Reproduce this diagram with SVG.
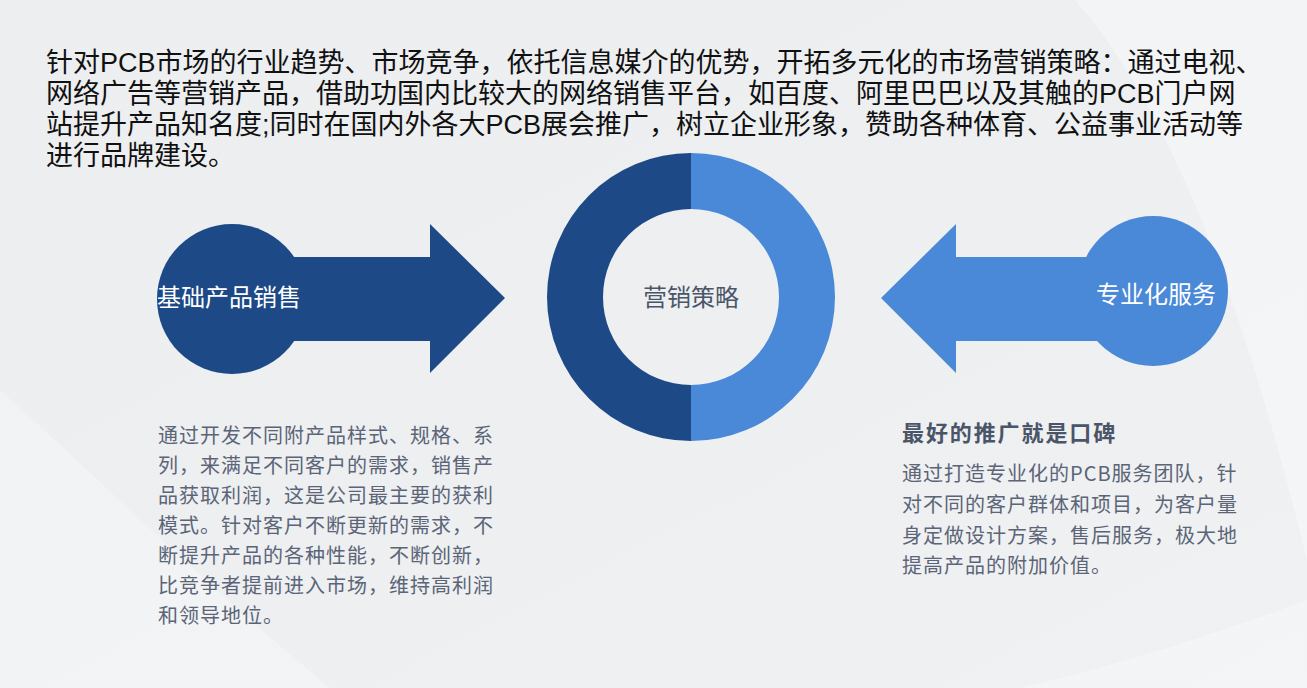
<svg xmlns="http://www.w3.org/2000/svg" width="1307" height="688" viewBox="0 0 1307 688">
<defs>
<linearGradient id="bg" x1="0" y1="0" x2="1" y2="1">
<stop offset="0" stop-color="#ECEEF0"/>
<stop offset="0.5" stop-color="#EDEFF1"/>
<stop offset="1" stop-color="#F0F1F3"/>
</linearGradient>
<style>
.dark{fill:#1D4A87}
.light{fill:#4A88D8}
.cjk{font-family:"Noto Sans CJK SC","Liberation Sans",sans-serif}
.top{font-family:"Liberation Sans","Noto Sans CJK SC",sans-serif;font-size:27px;fill:#111111}
.lbl{font-size:24px;fill:#FFFFFF}
.desc{font-size:20px;fill:#5B6577;letter-spacing:1px}
.ttl{font-size:22px;font-weight:bold;fill:#4A5568;letter-spacing:1.9px}
</style>
</defs>
<rect width="1307" height="688" fill="url(#bg)"/>
<path d="M1075 0 C1180 120 1250 330 1307 560 L1307 0 Z" fill="#FFFFFF" opacity="0.35"/>
<path d="M0 390 C90 470 200 580 330 688 L0 688 Z" fill="#FFFFFF" opacity="0.25"/>
<path d="M1307 600 C1200 640 1100 670 1020 688 L1307 688 Z" fill="#FFFFFF" opacity="0.3"/>

<g id="intro" class="top">
<text x="46" y="72">针对PCB市场的行业趋势、市场竞争，依托信息媒介的优势，开拓多元化的市场营销策略：通过电视、</text>
<text x="46" y="103">网络广告等营销产品，借助功国内比较大的网络销售平台，如百度、阿里巴巴以及其触的PCB门户网</text>
<text x="46" y="134">站提升产品知名度;同时在国内外各大PCB展会推广，树立企业形象，赞助各种体育、公益事业活动等</text>
<text x="46" y="165">进行品牌建设。</text>
</g>

<g id="node-left">
<circle class="dark" cx="232" cy="299" r="75"/>
<polygon class="dark" points="290,257 430,257 430,224 505,298 430,373 430,341 290,341"/>
<text class="cjk lbl" x="157" y="306">基础产品销售</text>
</g>

<g id="node-center">
<path class="dark" d="M691 153 A144 144 0 0 0 691 441 L691 385 A88 88 0 0 1 691 209 Z"/>
<path class="light" d="M691 153 A144 144 0 0 1 691 441 L691 385 A88 88 0 0 0 691 209 Z"/>
<text class="cjk" x="691" y="306" text-anchor="middle" font-size="24" fill="#4B5568">营销策略</text>
</g>

<g id="node-right">
<circle class="light" cx="1153" cy="291" r="75"/>
<polygon class="light" points="1110,257 956,257 956,224 881,298 956,373 956,341 1110,341"/>
<text class="cjk lbl" x="1096" y="303">专业化服务</text>
</g>

<g id="connectors"></g>

<g id="desc-left" class="cjk desc">
<text x="158" y="443">通过开发不同附产品样式、规格、系</text>
<text x="158" y="473">列，来满足不同客户的需求，销售产</text>
<text x="158" y="503">品获取利润，这是公司最主要的获利</text>
<text x="158" y="533">模式。针对客户不断更新的需求，不</text>
<text x="158" y="563">断提升产品的各种性能，不断创新，</text>
<text x="158" y="593">比竞争者提前进入市场，维持高利润</text>
<text x="158" y="623">和领导地位。</text>
</g>

<g id="desc-right">
<text class="cjk ttl" x="902" y="441">最好的推广就是口碑</text>
<g class="cjk desc">
<text x="902" y="481">通过打造专业化的PCB服务团队，针</text>
<text x="902" y="512">对不同的客户群体和项目，为客户量</text>
<text x="902" y="543">身定做设计方案，售后服务，极大地</text>
<text x="902" y="573">提高产品的附加价值。</text>
</g>
</g>
</svg>
